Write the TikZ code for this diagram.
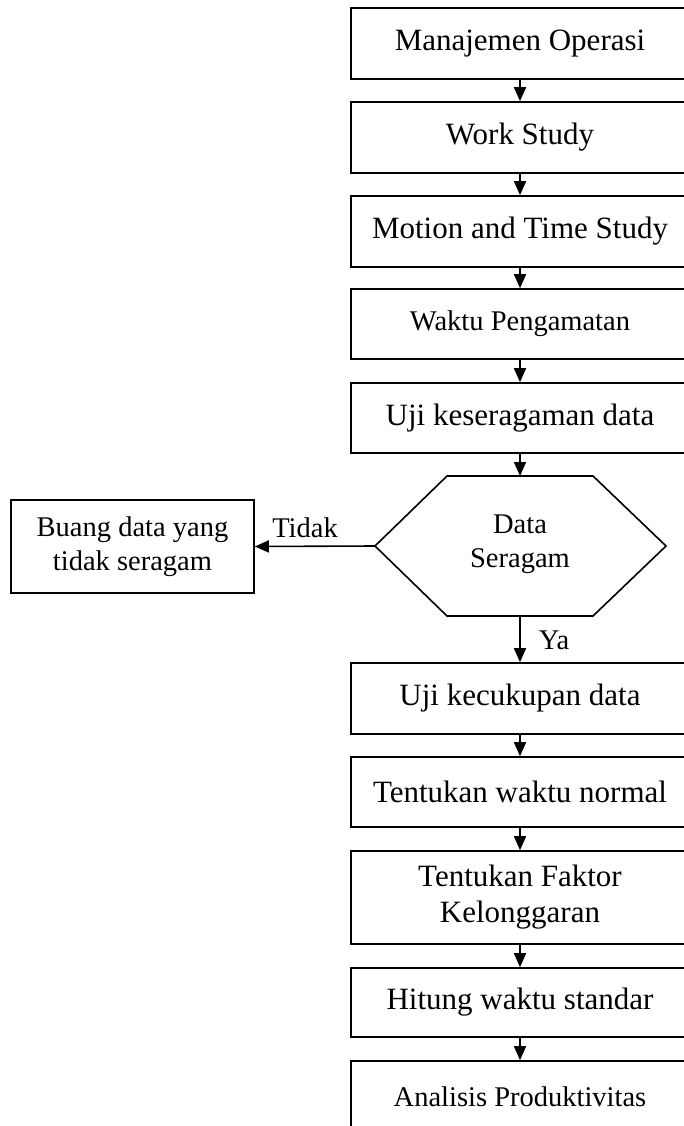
\documentclass[tikz,border=0pt]{standalone}
\usepackage{fontspec}
\setmainfont{Liberation Serif}
\usetikzlibrary{arrows.meta}
\tikzset{
  box/.style={draw=black, line width=1.6pt, minimum width=338pt, minimum height=71pt, inner sep=0pt, align=center, font=\fontsize{31}{36}\selectfont},
  smallbox/.style={box, font=\fontsize{28.5}{34}\selectfont},
  conn/.style={line width=1.6pt, -{Triangle[length=14pt,width=12pt]}},
  lbl/.style={inner sep=0pt, font=\fontsize{28.5}{34}\selectfont},
  hexline/.style={draw=black, line width=1.6pt, line join=miter}
}
\begin{document}
\begin{tikzpicture}[x=1pt,y=-1pt]
\useasboundingbox (0,0) rectangle (684,1126);
\fill[white] (0,0) rectangle (684,1126);
\node[box] (b1) at (520,43.5) {Manajemen Operasi};
\node[box] (b2) at (520,137.5) {Work Study};
\node[box] (b3) at (520,231.5) {Motion and Time Study};
\node[smallbox, minimum height=70pt] (b4) at (520,324) {Waktu Pengamatan};
\node[box, minimum height=70pt] (b5) at (520,418) {Uji keseragaman data};
% hexagon
\coordinate (ht) at (520,476);
\coordinate (hb) at (520,616);
\coordinate (hl) at (375,546);
\coordinate (hr) at (666,546);
\draw[hexline] (hl) -- (447,476) -- (593,476) -- (hr) -- (593,616) -- (447,616) -- cycle;
\node[lbl, align=center] (hex) at (520,544) {Data\\Seragam};
\node[smallbox, minimum width=243pt, minimum height=93pt] (lb) at (132.5,546.5) {Buang data yang\\tidak seragam};
\node[box] (b6) at (520,698.5) {Uji kecukupan data};
\node[box, minimum height=70pt] (b7) at (520,792) {Tentukan waktu normal};
\node[box, minimum height=93pt] (b8) at (520,897.5) {Tentukan Faktor\\Kelonggaran};
\node[box, minimum height=69pt] (b9) at (520,1002.5) {Hitung waktu standar};
\node[smallbox] (b10) at (520,1096.5) {Analisis Produktivitas};
\draw[conn] (b1) -- (b2);
\draw[conn] (b2) -- (b3);
\draw[conn] (b3) -- (b4);
\draw[conn] (b4) -- (b5);
\draw[conn] (b5) -- (ht);
\draw[conn] (hl) -- (lb.east);
\draw[conn] (hb) -- (b6.north);
\draw[conn] (b6) -- (b7);
\draw[conn] (b7) -- (b8);
\draw[conn] (b8) -- (b9);
\draw[conn] (b9) -- (b10);
\node[lbl] (tidak) at (305,528) {Tidak};
\node[lbl] (ya) at (554,640) {Ya};
\end{tikzpicture}
\end{document}
